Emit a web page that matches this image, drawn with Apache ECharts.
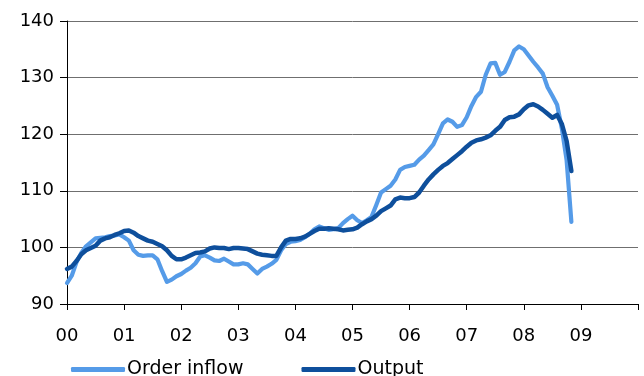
<!DOCTYPE html>
<html>
<head>
<meta charset="utf-8">
<script src="https://cdn.jsdelivr.net/npm/echarts@6/dist/echarts.min.js"></script>
<style>
html,body{margin:0;padding:0;background:#fff;}
#chart{width:644px;height:376px;}
</style>
</head>
<body>
<div id="chart"></div>
<script>
// Monthly data, Jan 2000 .. Nov 2008
const startYear = 2000;
const yearTickLabels = ['00','01','02','03','04','05','06','07','08','09'];
const seriesNames = ['Order inflow', 'Output'];

const orderInflow = [
  93.7, 95.0, 97.4, 99.0, 100.2, 100.9, 101.6, 101.7, 101.8, 102.0, 102.1, 102.3,
  101.8, 101.2, 99.5, 98.7, 98.5, 98.6, 98.6, 97.9, 95.8, 93.9, 94.3, 94.9,
  95.3, 95.9, 96.4, 97.2, 98.4, 98.6, 98.2, 97.7, 97.6, 98.0, 97.5, 97.0,
  97.0, 97.2, 97.0, 96.2, 95.4, 96.2, 96.6, 97.1, 97.8, 99.5, 100.6, 101.0,
  101.1, 101.3, 101.8, 102.4, 103.2, 103.7, 103.4, 103.1, 103.2, 103.4, 104.3, 105.0,
  105.6, 104.8, 104.3, 104.8, 105.4, 107.5, 109.7, 110.3, 110.9, 112.0, 113.7, 114.2,
  114.4, 114.6, 115.5, 116.2, 117.2, 118.2, 120.0, 121.9, 122.6, 122.2, 121.3, 121.6,
  123.0, 125.0, 126.6, 127.5, 130.5, 132.5, 132.6, 130.5, 131.0, 132.8, 134.8, 135.5,
  135.0, 133.9, 132.8, 131.8, 130.7, 128.3, 126.8, 125.2, 121.0, 115.4, 104.5
];

const output = [
  96.2, 96.6, 97.6, 98.8, 99.5, 99.9, 100.3, 101.2, 101.6, 101.8, 102.2, 102.5,
  102.9, 103.0, 102.6, 102.0, 101.6, 101.2, 101.0, 100.6, 100.2, 99.5, 98.5, 97.9,
  97.9, 98.2, 98.6, 99.0, 99.1, 99.3, 99.8, 100.0, 99.9, 99.9, 99.7, 99.9,
  99.9, 99.8, 99.7, 99.3, 98.9, 98.7, 98.6, 98.5, 98.5, 100.0, 101.2, 101.5,
  101.5, 101.6, 101.9, 102.4, 102.9, 103.3, 103.3, 103.4, 103.3, 103.2, 103.0, 103.1,
  103.2, 103.5, 104.1, 104.6, 105.0, 105.6, 106.4, 106.9, 107.4, 108.5, 108.8, 108.7,
  108.7, 108.9, 109.7, 110.9, 112.0, 112.9, 113.7, 114.4, 114.9, 115.6, 116.3, 117.0,
  117.8, 118.5, 118.9, 119.1, 119.4, 119.8, 120.6, 121.3, 122.5, 123.0, 123.1, 123.5,
  124.4, 125.1, 125.3, 124.9, 124.3, 123.6, 122.9, 123.4, 121.8, 118.8, 113.5
];

const toPairs = arr => arr.map((v, i) => [startYear + i / 12, v]);

const chart = echarts.init(document.getElementById('chart'), null, {renderer: 'canvas'});
const font = 'DejaVu Sans';
chart.setOption({
  animation: false,
  backgroundColor: '#ffffff',
  grid: {left: 67, right: 6, top: 21, bottom: 72, containLabel: false},
  legend: {
    left: 66, top: 355,
    itemWidth: 54, itemHeight: 5, itemGap: 58,
    icon: 'roundRect',
    textStyle: {fontFamily: font, fontSize: 19, color: '#000', padding: [0,0,0,-3]},
    data: seriesNames
  },
  xAxis: {
    type: 'value', min: 2000, max: 2010, interval: 1,
    axisLine: {lineStyle: {color: '#000', width: 1}},
    axisTick: {show: true, length: 6, inside: false, lineStyle: {color: '#000'}},
    splitLine: {show: false},
    axisLabel: {
      fontFamily: font, fontSize: 18, color: '#000', margin: 23,
      formatter: v => {
        const k = Math.round(v - startYear);
        return k >= 0 && k < yearTickLabels.length ? yearTickLabels[k] : '';
      }
    }
  },
  yAxis: {
    type: 'value', min: 90, max: 140, interval: 10,
    axisLine: {show: true, lineStyle: {color: '#000', width: 1}},
    axisTick: {show: true, length: 7, lineStyle: {color: '#000'}},
    splitLine: {show: true, lineStyle: {color: '#6f6f6f', width: 1}},
    axisLabel: {fontFamily: font, fontSize: 18, color: '#000', margin: 13}
  },
  series: [
    {
      name: seriesNames[0], type: 'line', showSymbol: false, symbol: 'none',
      data: toPairs(orderInflow),
      lineStyle: {color: '#559be8', width: 4.2, cap: 'round', join: 'round'},
      itemStyle: {color: '#559be8'}, z: 2
    },
    {
      name: seriesNames[1], type: 'line', showSymbol: false, symbol: 'none',
      data: toPairs(output),
      lineStyle: {color: '#0e4f9c', width: 4.5, cap: 'round', join: 'round'},
      itemStyle: {color: '#0e4f9c'}, z: 3
    }
  ]
});
</script>
</body>
</html>
